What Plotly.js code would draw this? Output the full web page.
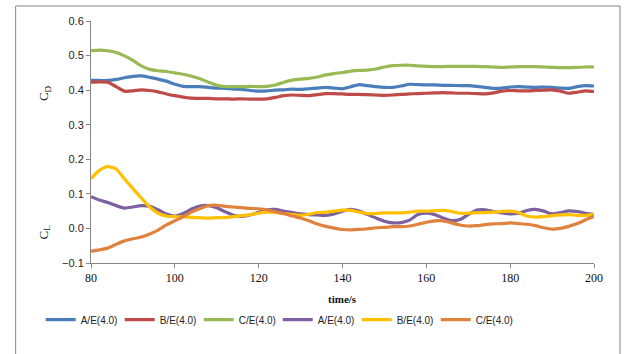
<!DOCTYPE html>
<html>
<head>
<meta charset="utf-8">
<script src="https://cdn.plot.ly/plotly-3.0.1.min.js"></script>
<style>html,body{margin:0;padding:0;background:#fff;}#chart{width:625px;height:354px;}</style>
</head>
<body>
<div id="chart"></div>
<script>
var time = [80,82,84,86,88,90,92,94,96,98,100,102,104,106,108,110,112,114,116,118,120,122,124,126,128,130,132,134,136,138,140,142,144,146,148,150,152,154,156,158,160,162,164,166,168,170,172,174,176,178,180,182,184,186,188,190,192,194,196,198,200];

var cdA = [.428,.428,.428,.431,.436,.440,.441,.437,.432,.426,.417,.411,.410,.410,.408,.406,.405,.403,.402,.399,.397,.398,.400,.401,.403,.402,.404,.406,.408,.406,.404,.410,.416,.413,.410,.408,.408,.412,.417,.416,.415,.415,.414,.414,.413,.413,.411,.408,.405,.406,.409,.410,.409,.408,.409,.408,.406,.405,.410,.413,.412];
var cdB = [.423,.424,.423,.410,.397,.398,.401,.399,.395,.389,.384,.380,.377,.376,.376,.375,.375,.374,.375,.374,.374,.375,.379,.384,.386,.385,.384,.387,.390,.390,.389,.388,.388,.387,.386,.385,.386,.388,.389,.390,.391,.392,.393,.392,.391,.391,.390,.389,.392,.397,.399,.398,.398,.399,.400,.401,.397,.391,.394,.398,.396];
var cdC = [.514,.516,.514,.509,.499,.486,.470,.460,.456,.454,.450,.446,.440,.433,.423,.414,.410,.410,.410,.411,.410,.411,.415,.423,.429,.432,.434,.438,.444,.448,.451,.455,.457,.458,.461,.467,.471,.472,.472,.470,.469,.468,.468,.469,.469,.469,.469,.468,.467,.466,.467,.468,.468,.468,.467,.466,.465,.465,.466,.467,.467];
var clA = [.092,.082,.075,.066,.059,.062,.066,.064,.054,.042,.036,.043,.056,.065,.066,.060,.048,.038,.035,.039,.047,.054,.055,.050,.046,.042,.040,.039,.038,.042,.050,.055,.050,.040,.030,.021,.016,.017,.024,.040,.044,.040,.030,.023,.026,.040,.053,.054,.049,.045,.042,.044,.052,.055,.050,.042,.046,.051,.049,.044,.040];
var clB = [.144,.168,.179,.172,.143,.115,.088,.062,.044,.036,.034,.033,.032,.031,.030,.031,.031,.034,.037,.040,.044,.047,.046,.043,.040,.038,.041,.046,.047,.050,.053,.052,.047,.043,.043,.045,.045,.045,.047,.050,.050,.051,.052,.049,.044,.044,.045,.046,.047,.049,.050,.046,.036,.033,.034,.037,.039,.040,.038,.038,.040];
var clC = [-.066,-.062,-.057,-.046,-.036,-.030,-.025,-.016,-.005,.010,.022,.034,.048,.058,.066,.067,.064,.062,.060,.058,.057,.054,.048,.043,.036,.030,.022,.013,.006,.001,-.003,-.004,-.003,-.001,.002,.003,.005,.005,.007,.012,.018,.022,.022,.016,.010,.007,.008,.011,.013,.014,.016,.014,.012,.008,.002,-.002,.000,.006,.014,.025,.035];

var names = ['A/E(4.0)','B/E(4.0)','C/E(4.0)','A/E(4.0)','B/E(4.0)','C/E(4.0)'];
var series = [cdA, cdB, cdC, clA, clB, clC];
var colors = ['#4a7ebb','#be4b48','#98b954','#7d60a0','#ffc000','#e0823e'];

var traces = series.map(function(s, i){
  return {x: time, y: s, type: 'scatter', mode: 'lines', name: names[i],
          line: {color: colors[i], width: 3.2, shape: 'spline', smoothing: 0.6}};
});

var grey = '#868686';
var layout = {
  width: 625, height: 354,
  margin: {l: 91, r: 31, t: 21, b: 91},
  paper_bgcolor: '#fff', plot_bgcolor: '#fff',
  showlegend: true,
  legend: {orientation: 'h', x: -0.1, xanchor: 'left', y: -0.234, yanchor: 'middle',
           font: {family: 'Liberation Sans, Arial, sans-serif', size: 10, color: '#222'},
           entrywidth: 34, traceorder: 'normal', bgcolor: 'rgba(0,0,0,0)'},
  xaxis: {range: [80, 200], dtick: 20, tick0: 80, showgrid: false, zeroline: false,
          showline: true, linecolor: grey, linewidth: 1, ticks: 'outside', ticklen: 4, tickcolor: grey,
          tickfont: {family: 'Liberation Serif, Times New Roman, serif', size: 12, color: '#111'}},
  yaxis: {range: [-0.1, 0.6], dtick: 0.1, tick0: 0, tickformat: '.1f', showgrid: false, zeroline: false,
          showline: true, linecolor: grey, linewidth: 1, ticks: 'outside', ticklen: 4, tickcolor: grey,
          tickfont: {family: 'Liberation Sans, Arial, sans-serif', size: 11, color: '#222'}},
  annotations: [
    {text: '<b>time/s</b>', xref: 'paper', yref: 'paper', x: 0.5, y: 0, yanchor: 'middle', yshift: -36,
     showarrow: false, font: {family: 'Liberation Serif, Times New Roman, serif', size: 11, color: '#111'}},
    {text: 'C<sub>D</sub>', xref: 'paper', yref: 'y', x: 0, xshift: -57, y: 0.39, textangle: -90,
     showarrow: false, font: {family: 'Liberation Serif, Times New Roman, serif', size: 13, color: '#111'}},
    {text: 'C<sub>L</sub>', xref: 'paper', yref: 'y', x: 0, xshift: -57, y: -0.01, textangle: -90,
     showarrow: false, font: {family: 'Liberation Serif, Times New Roman, serif', size: 13, color: '#111'}}
  ],
  shapes: [
    {type: 'rect', xref: 'paper', yref: 'paper', x0: -0.1498, x1: 1.0517, y0: -0.5, y1: 1.062,
     line: {color: grey, width: 1}, fillcolor: 'rgba(0,0,0,0)'}
  ]
};

Plotly.newPlot('chart', traces, layout, {displayModeBar: false, staticPlot: true});
</script>
</body>
</html>
